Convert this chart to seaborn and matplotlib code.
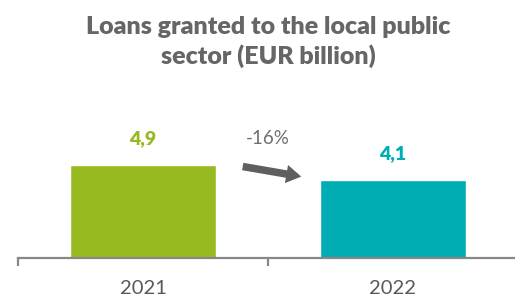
import matplotlib
matplotlib.use("Agg")
import matplotlib.pyplot as plt
import seaborn as sns
import pandas as pd

categories = ["2021", "2022"]
values = [4.9, 4.1]
value_labels = ["4,9", "4,1"]
change_label = "-16%"
title = "Loans granted to the local public\nsector (EUR billion)"
colors = ["#97BA21", "#00ADB3"]

sns.set_theme(style="white")
plt.rcParams['font.family'] = ['Lato', 'DejaVu Sans']

df = pd.DataFrame({"year": categories, "value": values})

fig = plt.figure(figsize=(5.15, 2.96), dpi=100)
ax = fig.add_axes([18/515, 38/296, 500/515, 160/296])

sns.barplot(data=df, x="year", y="value", hue="year", palette=colors,
            width=0.584, legend=False, ax=ax, saturation=1)

ax.set_xlim(-0.5, 1.5)
ax.set_ylim(0, 160/19)
ax.set_xlabel("")
ax.set_ylabel("")
ax.set_yticks([])
for s in ["top", "right", "left"]:
    ax.spines[s].set_visible(False)
ax.spines["bottom"].set_color("#878787")
ax.spines["bottom"].set_linewidth(1.6)

ax.set_xticks([0, 1])
ax.set_xticklabels(categories, fontsize=14.5, color="#595959")
ax.set_xticks([-0.5, 0.5], minor=True)
ax.tick_params(axis="x", which="major", length=0, pad=16)
ax.tick_params(axis="x", which="minor", length=6, width=1.6, color="#878787", bottom=True)

for i, (v, lab) in enumerate(zip(values, value_labels)):
    ax.text(i, v + 1.4, lab, ha="center", va="center", fontsize=14,
            fontweight="heavy", color=colors[i])

ax.text(0.5, 6.3, change_label, ha="center", va="center", fontsize=13.5, color="#6f6f6f")
ax.annotate("", xy=(0.644, 4.26), xytext=(0.388, 4.84),
            arrowprops=dict(arrowstyle="simple,head_length=0.9,head_width=1.1,tail_width=0.45",
                            color="#5f5f5f", lw=0))

fig.text(268/515, 1 - 42/296, title, ha="center", va="center", fontsize=18,
         fontweight="heavy", color="#666666", linespacing=1.3)

fig.savefig("out.png", dpi=100)
